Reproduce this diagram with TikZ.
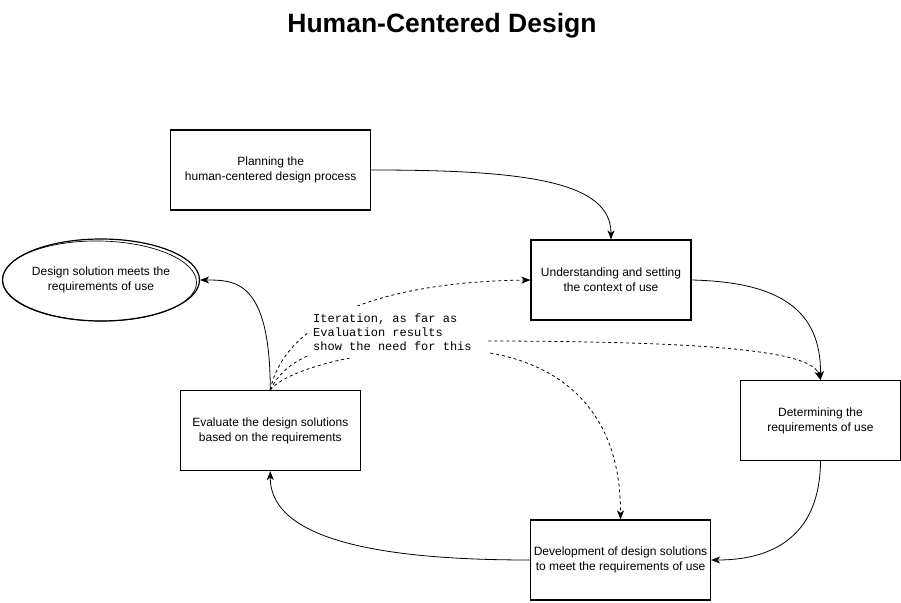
\documentclass[tikz,border=0pt]{standalone}
\usepackage{fontspec}
\setmainfont{Liberation Sans}
\newfontfamily\monofont{Liberation Mono}
\usetikzlibrary{arrows.meta,shapes.geometric}
\begin{document}
\begin{tikzpicture}[x=1pt,y=-1pt,
  stepbox/.style={draw, line width=1.2pt, minimum width=#1, minimum height=80pt, inner sep=0pt, align=center, font=\fontsize{12}{15}\selectfont},
  stepbox/.default=160pt,
  flow/.style={line width=0.8pt, -{Stealth[length=9pt,width=7pt,inset=2.5pt]}},
  iter/.style={flow, dash pattern=on 3pt off 3pt},
  note/.style={inner sep=0pt, align=left, font=\monofont\fontsize{12}{13.7}\selectfont}
]
\useasboundingbox (0,0) rectangle (901,602);
\fill[white] (0,0) rectangle (901,602);

\node[font=\bfseries\fontsize{26.5}{30}\selectfont, anchor=base] (title) at (442,32.5) {Human-Centered Design};

\node[stepbox=200pt] (plan) at (270.7,170) {Planning the\\human-centered design process};
\node[stepbox] (und) at (611,280) {Understanding and setting\\the context of use};
\node[stepbox] (det) at (820.5,420.5) {Determining the\\requirements of use};
\node[stepbox=180pt] (dev) at (620.5,560) {Development of design solutions\\to meet the requirements of use};
\node[stepbox=180pt] (ev) at (270.3,430.5) {Evaluate the design solutions\\based on the requirements};
\node[ellipse, draw, line width=1.2pt, minimum width=197pt, minimum height=82pt, inner sep=0pt, align=center, font=\fontsize{12}{15}\selectfont] (goal) at (101,280) {Design solution meets the\\requirements of use};
\draw[line width=0.7pt] ([xshift=-1.5pt,yshift=-1pt]goal.center) ellipse [x radius=97pt, y radius=40pt, rotate=-1];

% solid flow
\draw[flow] (plan.east) .. controls (520,170) and (611,180) .. (und.north);
\draw[flow] (und.east) .. controls (780,282) and (821,310) .. (det.north);
\draw[flow] (det.south) .. controls (820,530) and (780,560) .. (dev.east);
\draw[flow] (dev.west) .. controls (400,560) and (270,545) .. (ev.south);
\draw[flow] (ev.north) .. controls (270,280) and (235,280) .. (goal.east);

% dashed iteration
\draw[iter] (ev.north) .. controls (285,320) and (380,282) .. (und.west);
\draw[iter] (ev.north) .. controls (285,360) and (320,342) .. (400,341) .. controls (650,340) and (810,345) .. (det.north);
\draw[iter] (ev.north) .. controls (290,365) and (400,340) .. (490,353) .. controls (560,365) and (621,410) .. (dev.north);

\fill[white] (308,306) rectangle (488,358);
\node[note, anchor=north west] (lbl) at (313,314) {Iteration, as far as\\Evaluation results\\show the need for this};
\end{tikzpicture}
\end{document}
